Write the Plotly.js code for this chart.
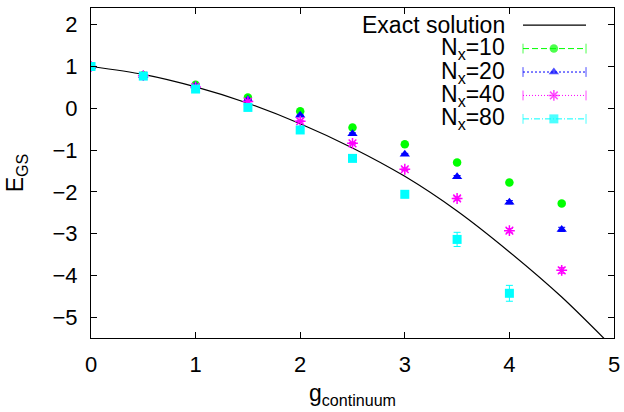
<!DOCTYPE html>
<html>
<head>
<meta charset="utf-8">
<script src="https://cdn.plot.ly/plotly-3.0.1.min.js"></script>
<style>
  html, body { margin: 0; padding: 0; background: #fff; }
  #chart { width: 624px; height: 412px; }
</style>
</head>
<body>
<div id="chart"></div>
<script>
// ---- data ----
const exactG = [0, 0.5, 1, 1.5, 2, 2.5, 3, 3.5, 4, 4.5, 5];
const exactE = [1.0, 0.81, 0.51, 0.12, -0.37, -0.95, -1.63, -2.46, -3.44, -4.52, -5.75];

const gVals = [0, 0.5, 1, 1.5, 2, 2.5, 3, 3.5, 4, 4.5];
const nx10 = [1.0, 0.79, 0.56, 0.26, -0.07, -0.46, -0.86, -1.30, -1.78, -2.28];
const nx10Err = [0.01, 0.01, 0.01, 0.01, 0.01, 0.02, 0.02, 0.03, 0.03, 0.04];
const nx20 = [1.0, 0.78, 0.53, 0.21, -0.17, -0.61, -1.10, -1.64, -2.25, -2.90];
const nx20Err = [0.01, 0.01, 0.01, 0.01, 0.01, 0.02, 0.02, 0.03, 0.04, 0.05];
const nx40 = [1.0, 0.78, 0.51, 0.16, -0.31, -0.84, -1.46, -2.16, -2.93, -3.88];
const nx40Err = [0.01, 0.01, 0.01, 0.01, 0.02, 0.02, 0.03, 0.04, 0.05, 0.07];
const gVals80 = [0, 0.5, 1, 1.5, 2, 2.5, 3, 3.5, 4];
const nx80 = [1.0, 0.77, 0.46, 0.02, -0.52, -1.20, -2.06, -3.14, -4.43];
const nx80Err = [0.01, 0.01, 0.01, 0.02, 0.03, 0.05, 0.08, 0.17, 0.19];

const xTicks = [0, 1, 2, 3, 4, 5];
const yTicks = [-5, -4, -3, -2, -1, 0, 1, 2];

const legendLabels = ['Exact solution', 'N<sub>x</sub>=10', 'N<sub>x</sub>=20', 'N<sub>x</sub>=40', 'N<sub>x</sub>=80'];

// ---- styles ----
const FONT = 'Liberation Sans, Arial, Helvetica, sans-serif';
const series = [
  {y: nx10, x: gVals, err: nx10Err, color: '#00ff00', symbol: 'circle', size: 8.5, dash: '6px,3px'},
  {y: nx20, x: gVals, err: nx20Err, color: '#0000ff', symbol: 'triangle-up', size: 9, dash: '2px,2px'},
  {y: nx40, x: gVals, err: nx40Err, color: '#ff00ff', symbol: 'asterisk-open', size: 9, dash: '1px,2px'},
  {y: nx80, x: gVals80, err: nx80Err, color: '#00ffff', symbol: 'square', size: 9, dash: '6px,2px,1px,2px'}
];

const traces = [];
traces.push({
  x: exactG, y: exactE, type: 'scatter', mode: 'lines',
  line: {color: '#000', width: 1.2, shape: 'spline', smoothing: 0.8},
  hoverinfo: 'skip', showlegend: false
});
series.forEach(s => {
  const isOpen = s.symbol.indexOf('open') >= 0;
  traces.push({
    x: s.x, y: s.y, type: 'scatter', mode: 'markers',
    error_y: {type: 'data', array: s.err, visible: true, color: s.color, thickness: 1, width: 3.5},
    marker: {symbol: s.symbol, size: s.size, color: s.color,
             line: {color: s.color, width: isOpen ? 1.5 : 0}},
    showlegend: false, cliponaxis: true
  });
});

// ---- custom legend (gnuplot style: text right, sample at right) ----
const legX0 = 0.826, legX1 = 0.9465, legXm = 0.885, legTextX = 0.7954;
const legY = [0.948, 0.877, 0.806, 0.735, 0.664];
const annotations = [];
legendLabels.forEach((t, i) => {
  annotations.push({
    xref: 'paper', yref: 'paper', x: legTextX, y: legY[i],
    xanchor: 'right', yanchor: 'middle', text: t, showarrow: false,
    font: {family: FONT, size: 23, color: '#000'}
  });
});
traces.push({
  x: [legX0, legX1], y: [legY[0], legY[0]], xaxis: 'x2', yaxis: 'y2',
  type: 'scatter', mode: 'lines', line: {color: '#000', width: 1.2},
  hoverinfo: 'skip', showlegend: false
});
series.forEach((s, i) => {
  const isOpen = s.symbol.indexOf('open') >= 0;
  traces.push({
    x: [legX0, legXm, legX1], y: [legY[i + 1], legY[i + 1], legY[i + 1]],
    xaxis: 'x2', yaxis: 'y2', type: 'scatter', mode: 'lines+markers',
    line: {color: s.color, width: 1, dash: s.dash},
    marker: {symbol: ['line-ns-open', s.symbol, 'line-ns-open'],
             size: [7, s.size, 7], color: s.color,
             line: {color: s.color, width: [1, isOpen ? 1.5 : 0, 1]}},
    hoverinfo: 'skip', showlegend: false, cliponaxis: false
  });
});

const axisCommon = {
  showline: true, linecolor: '#000', linewidth: 1, mirror: 'ticks',
  ticks: 'inside', ticklen: 6, tickcolor: '#000', tickwidth: 1,
  showgrid: false, zeroline: false,
  tickfont: {family: FONT, size: 22, color: '#000'}
};

const layout = {
  width: 624, height: 412,
  margin: {l: 91, r: 10, t: 8, b: 74},
  paper_bgcolor: '#fff', plot_bgcolor: '#fff',
  showlegend: false,
  xaxis: Object.assign({}, axisCommon, {
    range: [0, 5], tickvals: xTicks, ticklabelstandoff: 7,
    title: {text: 'g<sub>continuum</sub>', font: {family: FONT, size: 23, color: '#000'}, standoff: 8}
  }),
  yaxis: Object.assign({}, axisCommon, {
    range: [-5.5, 2.4], tickvals: yTicks, ticklabelstandoff: 8,
    title: {text: 'E<sub>GS</sub>', font: {family: FONT, size: 23, color: '#000'}, standoff: 22}
  }),
  xaxis2: {overlaying: 'x', range: [0, 1], visible: false, fixedrange: true},
  yaxis2: {overlaying: 'y', range: [0, 1], visible: false, fixedrange: true},
  annotations: annotations
};

Plotly.newPlot('chart', traces, layout, {staticPlot: true, displayModeBar: false});
</script>
</body>
</html>
